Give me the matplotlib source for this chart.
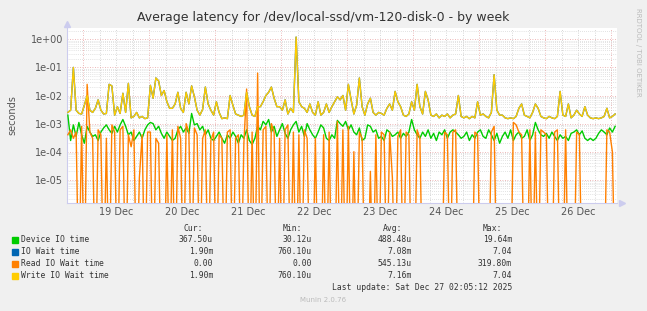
import numpy as np
import matplotlib
matplotlib.use("Agg")
import matplotlib.pyplot as plt

# hourly samples starting Dec 18 18:00, values in milliseconds
start_hour = -6
write_wait_ms = [
    2.5, 3.0, 100, 3.0, 2.3, 2.2, 4.5, 10, 3.0, 2.5,
    3.5, 7, 3.0, 2.2, 2.3, 25, 22, 2.0, 4.0, 2.3,
    12, 2.5, 27, 1.6, 1.8, 2.5, 1.6, 1.8, 1.5, 1.6,
    23, 8, 42, 33, 10, 15, 6, 3.5, 3.5, 5,
    13, 3.5, 2.5, 13, 5, 22, 9, 3.0, 2.0, 3.2,
    20, 5, 3.0, 2.0, 6, 2.5, 1.5, 1.6, 1.5, 10,
    4.5, 2.2, 2.0, 1.8, 2.0, 13, 4, 2.0, 1.8, 4,
    4, 6, 10, 13, 20, 8, 4, 4, 3.0, 7,
    2.2, 3.5, 2.5, 1200, 6, 4, 3.5, 2.5, 5, 2.5,
    2.0, 6, 2.0, 2.5, 5, 2.5, 4, 6, 9, 7,
    10, 3.0, 25, 7, 2.2, 4.5, 42, 4, 2.0, 5,
    8, 2.5, 2.0, 2.5, 2.3, 2.0, 3.5, 5, 3.0, 14,
    6, 4, 2.0, 1.8, 2.2, 6, 3.0, 25, 4, 2.2,
    14, 7, 2.0, 1.8, 2.2, 1.6, 2.0, 1.8, 2.2, 1.6,
    2.0, 2.2, 10, 1.8, 1.6, 1.8, 1.5, 1.8, 1.6, 6,
    2.0, 2.2, 1.8, 1.6, 2.5, 55, 3, 2.0, 2.0, 1.6,
    1.5, 1.6, 1.5, 1.8, 3.5, 5, 2.0, 1.8, 1.6, 2.5,
    5, 3.5, 1.8, 1.6, 1.5, 1.8, 1.6, 1.5, 1.8, 14,
    2.0, 1.8, 5, 1.6, 2.0, 3, 2.2, 1.8, 4, 2.0,
    1.6, 1.5, 1.6, 1.5, 1.6, 1.8, 3.5, 1.6, 1.8, 2.2,
]
io_wait_ms = list(write_wait_ms)  # sits right under the write line
device_io_ms = [
    2.0, 0.25, 0.9, 0.35, 1.1, 0.4, 0.2, 0.8, 0.5, 0.35,
    0.4, 0.25, 0.5, 0.7, 0.9, 0.6, 0.45, 0.8, 0.5, 0.9,
    1.4, 0.8, 0.4, 0.5, 0.25, 0.35, 0.5, 0.3, 0.6, 0.9,
    1.1, 1.0, 0.6, 0.8, 0.45, 0.3, 0.5, 0.35, 0.25, 0.3,
    0.6, 0.8, 0.5, 0.7, 0.45, 2.3, 0.9, 1.0, 0.6, 0.8,
    0.4, 0.6, 0.3, 0.25, 0.35, 0.5, 0.3, 0.2, 0.4, 0.3,
    0.5, 0.35, 0.2, 0.4, 0.3, 0.6, 0.25, 0.18, 0.3, 0.8,
    0.6, 1.2, 0.9, 1.4, 0.5, 0.8, 0.35, 0.6, 1.0, 0.45,
    0.3, 0.6, 0.9, 1.2, 0.5, 0.8, 0.35, 1.0, 0.6, 0.4,
    0.3, 0.5, 0.9, 0.7, 0.3, 0.25, 0.4, 0.3, 1.3, 1.0,
    0.8, 1.2, 0.6, 0.9, 0.5, 0.4, 0.7, 0.25, 0.3, 0.9,
    0.8, 0.5, 0.6, 0.3, 0.35, 0.25, 0.6, 0.5, 0.35, 0.4,
    0.5, 0.3, 0.45, 0.35, 0.5, 1.4, 0.6, 0.4, 0.3, 0.5,
    0.35, 0.6, 0.3, 0.45, 0.25, 0.5, 0.4, 0.6, 0.3, 0.5,
    0.6, 0.5, 0.4, 0.3, 0.35, 0.5, 0.25, 0.4, 0.3, 0.5,
    0.6, 0.35, 0.3, 0.6, 0.4, 0.25, 0.45, 0.2, 0.35, 0.5,
    0.3, 0.6, 0.25, 0.4, 0.5, 0.3, 0.35, 0.6, 0.25, 0.4,
    1.1, 0.6, 0.4, 0.35, 0.45, 0.3, 0.5, 0.35, 0.25, 0.4,
    0.3, 0.35, 0.25, 0.45, 0.5, 0.6, 0.4, 0.55, 0.3, 0.25,
    0.3, 0.25, 0.3, 0.45, 0.6, 0.5, 0.4, 0.7, 0.5, 0.8,
]
read_wait_ms = [
    0.4, 0.6, 0.3, 0.5, 0, 0.8, 0, 25, 0.5, 0.3,
    0, 0.6, 0.4, 0, 0.3, 0, 0.9, 0.5, 0, 0.6,
    0.8, 0, 0.4, 0.15, 0.6, 0, 0.012, 0.4, 0, 0.5,
    0.5, 0, 0.3, 0.2, 0, 0, 0.4, 0, 0.6, 0,
    0.8, 0.3, 0, 1.0, 0.5, 0, 0.7, 0.4, 0, 0.3,
    0.6, 0, 0.25, 0.5, 0, 0.4, 0.3, 0, 0.5, 0.6,
    0, 0.3, 0.4, 0, 0.2, 17, 0, 0.5, 0, 63,
    0, 0.6, 0.8, 0, 1.0, 0.5, 0, 0.3, 0, 0.6,
    0.9, 0, 0.5, 0, 0.4, 0, 0.6, 0.3, 0, 0,
    0.3, 0, 0, 0.4, 0, 0.5, 0, 0, 1.2, 0,
    0.6, 0, 0.8, 0, 0.1, 0, 0.5, 0.3, 0, 0,
    0.02, 0, 0.4, 0, 0.5, 0.4, 0, 0.5, 0.012, 0,
    0.35, 0.6, 0, 0.5, 0.4, 0, 0, 0.6, 0.3, 0,
    0, 0, 0, 0, 0, 0, 0, 0.5, 0.4, 0,
    0.5, 0.6, 0, 0, 0, 0, 0, 0, 0.5, 0.4,
    0, 0, 0, 0, 0.5, 0.8, 0, 0, 0, 0,
    0, 0, 1.1, 0.9, 0.5, 0.4, 0, 0, 0.6, 0,
    0.5, 0, 0.6, 0.5, 0.4, 0, 0, 0.5, 0.6, 0,
    0, 0.6, 0, 0, 0, 0.5, 0.4, 0, 0, 0,
    0, 0, 0, 0, 0, 0, 0.6, 0.5, 0.1, 0,
]

day_labels = ["19 Dec", "20 Dec", "21 Dec", "22 Dec", "23 Dec", "24 Dec", "25 Dec", "26 Dec"]
legend_names = ["Device IO time", "IO Wait time", "Read IO Wait time", "Write IO Wait time"]
legend_colors = ["#00CC00", "#0066B3", "#FF8000", "#FFCC00"]
cur_vals = ["367.50u", "1.90m", "0.00", "1.90m"]
min_vals = ["30.12u", "760.10u", "0.00", "760.10u"]
avg_vals = ["488.48u", "7.08m", "545.13u", "7.16m"]
max_vals = ["19.64m", "7.04", "319.80m", "7.04"]

W, H = 647, 311
fig = plt.figure(figsize=(W / 100, H / 100), dpi=100, facecolor="#F0F0F0")
L, R, T, B = 67, 617, 28, 203
ax = fig.add_axes([L / W, 1 - B / H, (R - L) / W, (B - T) / H])
ax.set_facecolor("white")

n = len(write_wait_ms)
x = (start_hour + 0.5 + np.arange(n)) / 24.0


def ser(vals):
    v = np.array(vals, dtype=float) / 1000.0
    v[v <= 0] = 1e-9
    return v


series = [device_io_ms, io_wait_ms, read_wait_ms, write_wait_ms]
for vals, c in zip(series, legend_colors):
    ax.plot(x, ser(vals), color=c, lw=1.0, zorder=3)

ax.set_yscale("log")
ymin = 10 ** ((39.3 - B) / 28.1)
ymax = 10 ** ((39.3 - T) / 28.1)
ax.set_ylim(ymin, ymax)
xmin = (L - 83) / 66.0
xmax = (R - 83) / 66.0
ax.set_xlim(xmin, xmax)

# grid
major_c = "#E8A0A0"
minor_c = "#C8C8C8"
for d in range(0, 9):
    ax.axvline(d, color=major_c, lw=0.6, ls=(0, (1, 2)), zorder=1)
for q in np.arange(-0.25, 8.1, 0.25):
    if abs(q - round(q)) > 1e-6:
        ax.axvline(q, color=minor_c, lw=0.6, ls=(0, (1, 2)), zorder=1)
for e in range(-6, 1):
    ax.axhline(10.0 ** e, color=major_c, lw=0.6, ls=(0, (1, 2)), zorder=1)
    for m in range(2, 10):
        v = m * 10.0 ** e
        if ymin < v < ymax:
            ax.axhline(v, color=minor_c, lw=0.5, ls=(0, (1, 2)), zorder=1)

ax.set_yticks([10.0 ** e for e in range(-5, 1)])
ax.set_yticklabels(["1e-05", "1e-04", "1e-03", "1e-02", "1e-01", "1e+00"])
ax.yaxis.set_minor_locator(matplotlib.ticker.NullLocator())
ax.set_xticks(np.arange(8) + 0.5)
ax.set_xticklabels(day_labels)
ax.tick_params(length=0, labelsize=7, colors="#555555", pad=3)
for s in ["top", "right"]:
    ax.spines[s].set_visible(False)
for s in ["left", "bottom"]:
    ax.spines[s].set_color("#CCCCEE")
    ax.spines[s].set_linewidth(0.8)
ax.plot([xmin], [ymax * 1.35], marker="^", color="#CCCCEE", ms=5, clip_on=False)
ax.plot([xmax + 0.07], [ymin], marker=">", color="#CCCCEE", ms=5, clip_on=False)

fig.text(323 / W, 1 - 18 / H, "Average latency for /dev/local-ssd/vm-120-disk-0 - by week",
         ha="center", va="center", fontsize=9, color="#333333")
fig.text(12 / W, 1 - 115 / H, "seconds", rotation=90, ha="center", va="center",
         fontsize=7, color="#555555")
fig.text(638 / W, 1 - 52 / H, "RRDTOOL / TOBI OETIKER", rotation=270, ha="center",
         va="center", fontsize=5, color="#BBBBBB")

mono = dict(family="DejaVu Sans Mono", fontsize=5.8, color="#333333", va="center")
ys = [240, 252, 264, 276]
cols = [(213, cur_vals, "Cur:"), (312, min_vals, "Min:"), (412, avg_vals, "Avg:"), (512, max_vals, "Max:")]
for xr, vals, head in cols:
    fig.text((xr - 10) / W, 1 - 228.5 / H, head, ha="right", **mono)
    for yy, v in zip(ys, vals):
        fig.text(xr / W, 1 - yy / H, v, ha="right", **mono)
for yy, name, c in zip(ys, legend_names, legend_colors):
    fig.patches.append(plt.Rectangle((12 / W, 1 - (yy + 3) / H), 6 / W, 6 / H,
                                     transform=fig.transFigure, color=c, figure=fig))
    fig.text(21 / W, 1 - yy / H, name, ha="left", **mono)
fig.text(512 / W, 1 - 288 / H, "Last update: Sat Dec 27 02:05:12 2025", ha="right", **mono)
fig.text(323 / W, 1 - 300.5 / H, "Munin 2.0.76", ha="center", va="center",
         fontsize=5, color="#BBBBBB")

fig.savefig("out.png", dpi=100, facecolor=fig.get_facecolor())
